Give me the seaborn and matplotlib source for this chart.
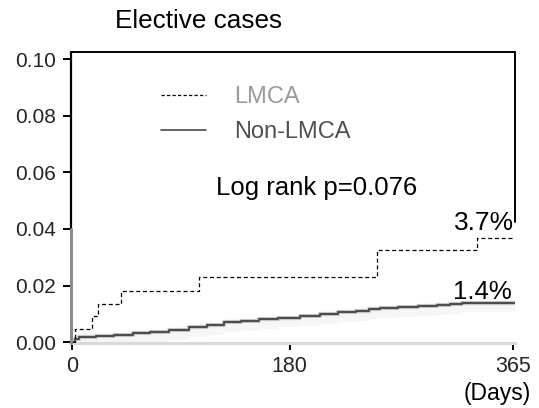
import numpy as np
import pandas as pd
import matplotlib
matplotlib.use("Agg")
import matplotlib.pyplot as plt
import seaborn as sns
from matplotlib.lines import Line2D

# ---- data ----
lmca_days = [0, 2, 16, 21, 40, 105, 252, 335, 367]
lmca_rate = [0.0, 0.0045, 0.0094, 0.0136, 0.018, 0.023, 0.0324, 0.0369, 0.0369]

non_days = [0, 2, 6, 20, 35, 50, 64, 80, 97, 112, 126, 140, 155, 170, 189,
            205, 220, 235, 246, 255, 270, 286, 302, 313, 323, 367]
non_rate = [0.0, 0.0010, 0.0017, 0.0021, 0.0026, 0.0031, 0.0035, 0.0043, 0.0052,
            0.0061, 0.0070, 0.0075, 0.0081, 0.0087, 0.0093, 0.0100, 0.0106, 0.0111,
            0.0116, 0.0121, 0.0125, 0.0129, 0.0132, 0.0136, 0.0140, 0.0140]

x_ticks = [0, 180, 365]
y_ticks = [0.00, 0.02, 0.04, 0.06, 0.08, 0.10]
series_labels = ["LMCA", "Non-LMCA"]
end_labels = ["3.7%", "1.4%"]
title = "Elective cases"
pval_text = "Log rank p=0.076"

sns.set_theme(style="white")
plt.rcParams["font.family"] = ["Liberation Sans", "DejaVu Sans"]

W, H = 539, 408
fig = plt.figure(figsize=(W / 100, H / 100), dpi=100)
def fx(px): return px / W
def fy(py): return 1 - py / H

ax = fig.add_axes([fx(71), fy(343), (515 - 71) / W, (343 - 52) / H])
xmin, xmax = -1.0, 366.6
ymin, ymax = -0.0003, 0.1025
ax.set_xlim(xmin, xmax)
ax.set_ylim(ymin, ymax)

df_l = pd.DataFrame({"day": lmca_days, "rate": lmca_rate})
df_n = pd.DataFrame({"day": non_days, "rate": non_rate})

# faint shadow band under the non-LMCA curve
ax.fill_between(df_n["day"], np.array(non_rate) - 0.0035, np.array(non_rate),
                step="post", color="#f6f6f6", lw=0, zorder=1)
sns.lineplot(data=df_n, x="day", y="rate", ax=ax, drawstyle="steps-post",
             color="#c4c4c4", lw=3.0, estimator=None, sort=False, zorder=2)
sns.lineplot(data=df_n, x="day", y="rate", ax=ax, drawstyle="steps-post",
             color="#4a4a4a", lw=1.4, estimator=None, sort=False, zorder=3)
sns.lineplot(data=df_l, x="day", y="rate", ax=ax, drawstyle="steps-post",
             color="black", lw=0.9, dashes=False, estimator=None, sort=False,
             linestyle=(0, (3.2, 2.2)), zorder=4)

# spines
for s in ["left", "right"]:
    ax.spines[s].set_visible(False)
ax.spines["top"].set_color("black")
ax.spines["top"].set_linewidth(1.4)
ax.spines["bottom"].set_color("#d9d9d9")
ax.spines["bottom"].set_linewidth(2.2)
yfrac = lambda v: (v - ymin) / (ymax - ymin)
ax.axvline(xmin, ymin=yfrac(0.04), ymax=1, color="black", lw=1.6, clip_on=False, zorder=5)
ax.axvline(xmin, ymin=0, ymax=yfrac(0.04), color="#8c8c8c", lw=2.2, clip_on=False, zorder=5)
ax.axvline(xmax, ymin=yfrac(0.0426), ymax=1, color="black", lw=1.4, clip_on=False, zorder=5)

ax.set_xticks(x_ticks)
ax.set_xticklabels([str(v) for v in x_ticks])
ax.set_yticks(y_ticks)
ax.set_yticklabels([f"{v:.2f}" for v in y_ticks])
ax.tick_params(axis="y", direction="out", length=6, width=1.4, color="black",
               labelsize=15, pad=5, left=True)
ax.tick_params(axis="x", direction="out", length=5, width=1.4, color="black",
               labelsize=15.5, pad=4, bottom=True)
ax.set_xlabel("")
ax.set_ylabel("")

# legend
handles = [Line2D([], [], color="black", lw=0.9, linestyle=(0, (2.6, 1.8))),
           Line2D([], [], color="#4a4a4a", lw=1.2)]
leg = ax.legend(handles, series_labels, loc="upper left",
                bbox_to_anchor=(fx(161), fy(86)), bbox_transform=fig.transFigure,
                frameon=False, fontsize=17, handlelength=1.9, handletextpad=1.2,
                labelspacing=0.55, borderpad=0, borderaxespad=0)
leg.get_texts()[0].set_color("#9a9a9a")
leg.get_texts()[1].set_color("#505050")

# texts
fig.text(fx(115), fy(28), title, ha="left", va="baseline", fontsize=18.8, color="black")
fig.text(fx(216), fy(195), pval_text, ha="left", va="baseline", fontsize=18.5, color="black")
fig.text(fx(454), fy(230), end_labels[0], ha="left", va="baseline", fontsize=19, color="black")
fig.text(fx(453), fy(299), end_labels[1], ha="left", va="baseline", fontsize=18.5, color="black")
fig.text(fx(464), fy(400), "(Days)", ha="left", va="baseline", fontsize=16.5, color="black")

fig.savefig("out.png", dpi=100)
